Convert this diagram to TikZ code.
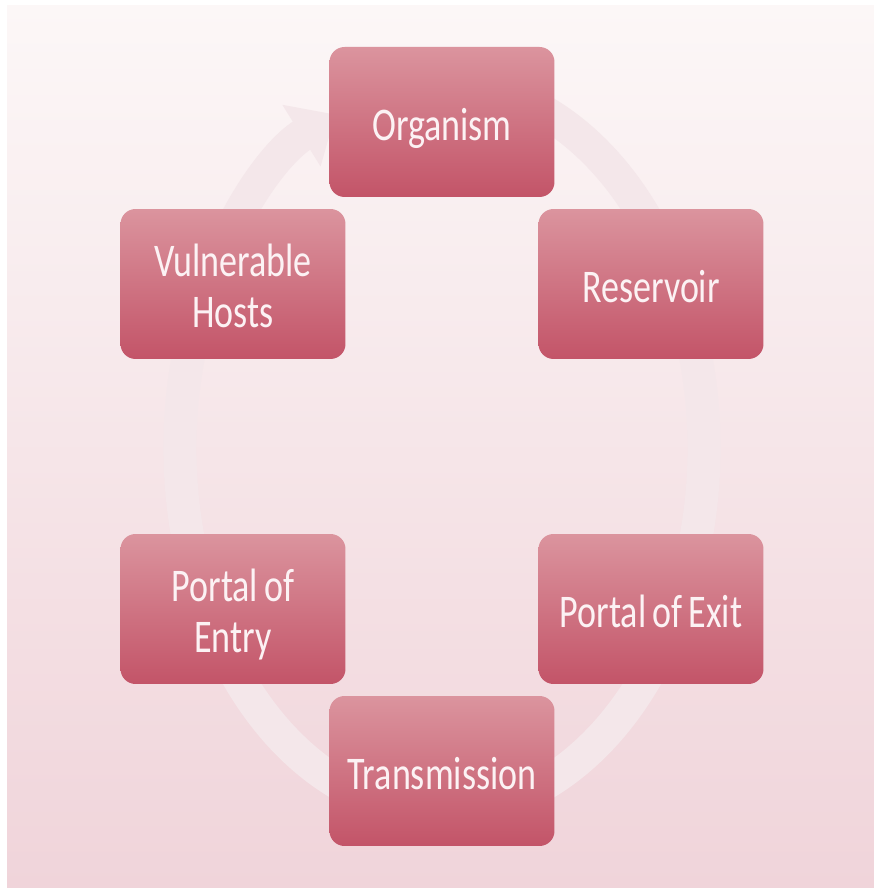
\documentclass[tikz,border=0pt]{standalone}
\usepackage{fontspec}
\setmainfont{Carlito}
\usepackage{xcolor}
\usepackage{graphicx}
\usepackage{tikz}
\usetikzlibrary{arrows.meta, positioning, calc}
\definecolor{slidetop}{RGB}{252,247,247}
\definecolor{slidebot}{RGB}{240,212,218}
\definecolor{boxtop}{RGB}{219,148,158}
\definecolor{boxbot}{RGB}{195,84,104}
\definecolor{ringcol}{RGB}{244,231,234}
\definecolor{labelcol}{RGB}{252,242,244}
% labels are set a little taller than wide, as on the slide
\newcommand{\stagetext}[1]{\raisebox{-0.16cm}[\height][\depth]{\scalebox{1}[1.3]{\spaceskip=0.17em\begin{tabular}{@{}c@{}}#1\end{tabular}}}}
\tikzset{
    stage/.style = {rounded corners=0.3cm, minimum width=4.5cm,
        minimum height=3cm, inner sep=0pt, align=center,
        top color=boxtop, bottom color=boxbot, draw=none,
        text=labelcol, font=\fontsize{20.5}{22}\selectfont},
    ring/.style = {draw=ringcol, line width=0.66cm,
        -{Triangle[width=1.4cm, length=0.8cm]}},
}

\begin{document}
\begin{tikzpicture}[x=0.02cm, y=0.02cm]
        \useasboundingbox (0,0) rectangle (874,888);
        \fill[white] (0,0) rectangle (874,888);
        \shade[top color=slidetop, bottom color=slidebot] (7,0) rectangle (874,882);
        \coordinate (hub) at (442,440);
        % faint cycle arrow behind the boxes
        \draw[ring] ($(hub)+(70:262 and 365)$) arc[start angle=70, end angle=-246, x radius=262, y radius=365];
        \node [stage] (organism) at (442,766) {\stagetext{Organism}};
        \node [stage] (reservoir) at (651,604) {\stagetext{Reservoir}};
        \node [stage] (exit) at (651,279) {\stagetext{Portal of Exit}};
        \node [stage] (transmission) at (442,117) {\stagetext{Transmission}};
        \node [stage] (entry) at (233,279) {\stagetext{Portal of\\Entry}};
        \node [stage] (hosts) at (233,604) {\stagetext{Vulnerable\\Hosts}};
        \end{tikzpicture}
\end{document}
